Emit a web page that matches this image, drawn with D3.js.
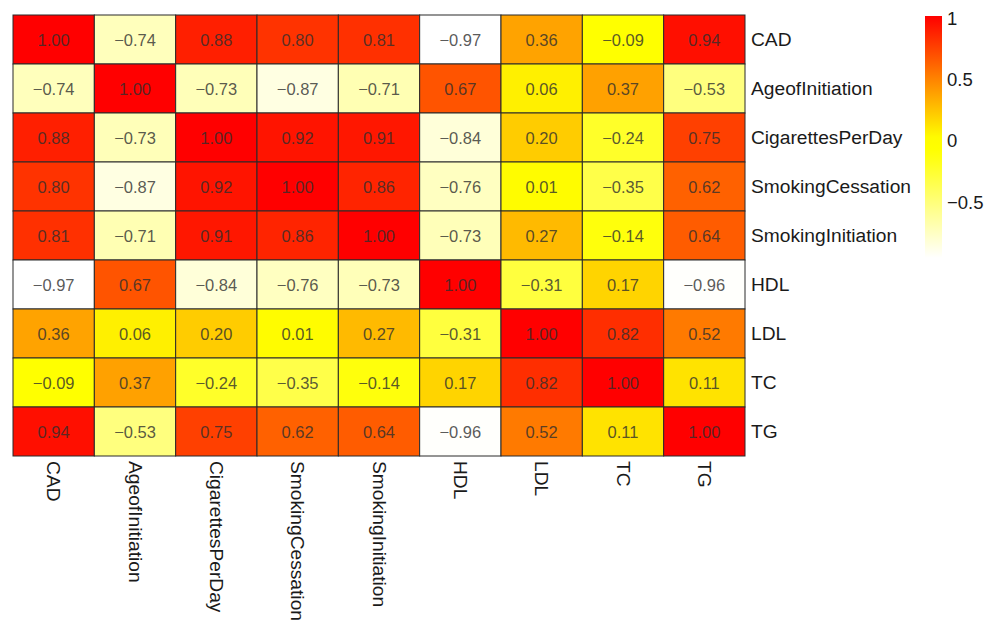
<!DOCTYPE html>
<html>
<head>
<meta charset="utf-8">
<script src="https://cdn.jsdelivr.net/npm/d3@7"></script>
<style>
  body { margin: 0; background: #fff; }
  text { font-family: "Liberation Sans", Arial, sans-serif; }
</style>
</head>
<body>
<div id="chart"></div>
<script>
// variable names, same order for rows and columns
const vars = ["CAD", "AgeofInitiation", "CigarettesPerDay", "SmokingCessation",
  "SmokingInitiation", "HDL", "LDL", "TC", "TG"];

// correlation rows
const rowCAD = [1.00, -0.74, 0.88, 0.80, 0.81, -0.97, 0.36, -0.09, 0.94];
const rowAge = [-0.74, 1.00, -0.73, -0.87, -0.71, 0.67, 0.06, 0.37, -0.53];
const rowCig = [0.88, -0.73, 1.00, 0.92, 0.91, -0.84, 0.20, -0.24, 0.75];
const rowCess = [0.80, -0.87, 0.92, 1.00, 0.86, -0.76, 0.01, -0.35, 0.62];
const rowInit = [0.81, -0.71, 0.91, 0.86, 1.00, -0.73, 0.27, -0.14, 0.64];
const rowHDL = [-0.97, 0.67, -0.84, -0.76, -0.73, 1.00, -0.31, 0.17, -0.96];
const rowLDL = [0.36, 0.06, 0.20, 0.01, 0.27, -0.31, 1.00, 0.82, 0.52];
const rowTC = [-0.09, 0.37, -0.24, -0.35, -0.14, 0.17, 0.82, 1.00, 0.11];
const rowTG = [0.94, -0.53, 0.75, 0.62, 0.64, -0.96, 0.52, 0.11, 1.00];

const legendTicks = [1, 0.5, 0, -0.5];

const rows = [rowCAD, rowAge, rowCig, rowCess, rowInit, rowHDL, rowLDL, rowTC, rowTG];

const W = 989, H = 624;
const svg = d3.select("#chart").append("svg").attr("width", W).attr("height", H);

// grid placement
const x = d3.scaleBand().domain(vars).range([13, 745]);
const y = d3.scaleBand().domain(vars).range([15, 456]);

// white -> yellow below zero, yellow -> red above
const color = d3.scaleLinear()
  .domain([-0.97, -0.1, 0, 1])
  .range(["#ffffff", "#ffff00", "#ffff00", "#ff0000"])
  .interpolate(d3.interpolateHsl);

const cells = [];
rows.forEach((r, i) => r.forEach((v, j) => cells.push({ row: vars[i], col: vars[j], v })));

const fmt = d => d3.format(".2f")(d).replace("-", "\u2212");

const g = svg.append("g");
g.selectAll("rect").data(cells).enter().append("rect")
  .attr("x", d => x(d.col)).attr("y", d => y(d.row))
  .attr("width", x.bandwidth()).attr("height", y.bandwidth())
  .attr("fill", d => color(d.v))
  .attr("stroke", "#2a2a2a").attr("stroke-width", 1);

g.selectAll("text.val").data(cells).enter().append("text")
  .attr("class", "val")
  .attr("x", d => x(d.col) + x.bandwidth() / 2)
  .attr("y", d => y(d.row) + y.bandwidth() / 2)
  .attr("text-anchor", "middle").attr("dominant-baseline", "central")
  .attr("font-size", 16.5).attr("fill", "#2e2e2e").attr("fill-opacity", 0.8)
  .text(d => fmt(d.v));

// row labels on the right
svg.append("g").selectAll("text").data(vars).enter().append("text")
  .attr("x", 751).attr("y", d => y(d) + y.bandwidth() / 2)
  .attr("dominant-baseline", "central")
  .attr("font-size", 19.2).attr("fill", "#1a1a1a")
  .text(d => d);

// column labels, rotated to read downwards
svg.append("g").selectAll("text").data(vars).enter().append("text")
  .attr("transform", d => `translate(${x(d) + x.bandwidth() / 2},461) rotate(90)`)
  .attr("dominant-baseline", "central")
  .attr("font-size", 19.2).attr("fill", "#1a1a1a")
  .text(d => d);

// colour legend
const ly = d3.scaleLinear().domain([-0.97, 1]).range([258, 16]);
const grad = svg.append("defs").append("linearGradient")
  .attr("id", "lg").attr("x1", 0).attr("x2", 0).attr("y1", 1).attr("y2", 0);
d3.range(0, 1.0001, 0.05).forEach(t => {
  grad.append("stop").attr("offset", t)
    .attr("stop-color", color(-0.97 + t * 1.97));
});
svg.append("rect")
  .attr("x", 925).attr("y", ly(1)).attr("width", 17).attr("height", ly(-0.97) - ly(1))
  .attr("fill", "url(#lg)");

svg.append("g").selectAll("text").data(legendTicks).enter().append("text")
  .attr("x", 947).attr("y", d => ly(d) + 2)
  .attr("dominant-baseline", "central")
  .attr("font-size", 18.5).attr("fill", "#1a1a1a")
  .text(d => String(d).replace("-", "\u2212"));
</script>
</body>
</html>
